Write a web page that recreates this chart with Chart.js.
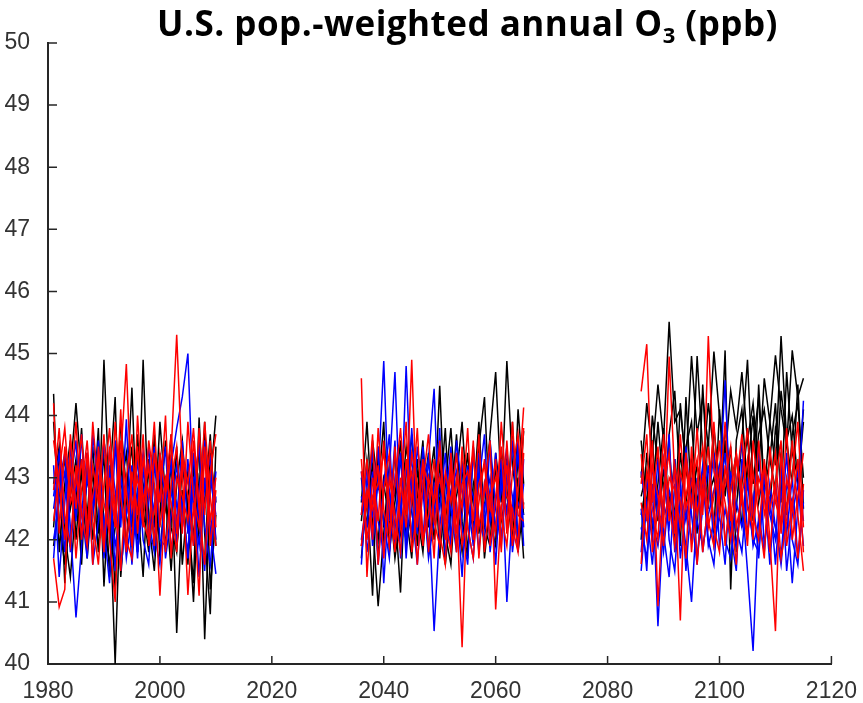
<!DOCTYPE html>
<html>
<head>
<meta charset="utf-8">
<script src="https://cdn.jsdelivr.net/npm/chart.js@4/dist/chart.umd.min.js"></script>
<style>
  body { margin: 0; background: #fff; }
  #wrap { position: relative; width: 863px; height: 703px; }
  #title {
    position: absolute; left: 157px; top: 5px;
    font-family: "Open Sans", sans-serif; font-weight: 700; font-size: 35px;
    line-height: 35px; color: #000; white-space: nowrap; letter-spacing: 0.5px;
  }
  #title sub { font-size: 22px; vertical-align: -7px; line-height: 0; }
</style>
</head>
<body>
<div id="wrap">
  <canvas id="ozone"></canvas>
  <div id="title">U.S. pop.-weighted annual O<sub>3</sub> (ppb)</div>
</div>
<script>
// years of the three simulated windows
const years1 = [1981, 1982, 1983, 1984, 1985, 1986, 1987, 1988, 1989, 1990, 1991, 1992, 1993, 1994, 1995, 1996, 1997, 1998, 1999, 2000, 2001, 2002, 2003, 2004, 2005, 2006, 2007, 2008, 2009, 2010]
const years2 = [2036, 2037, 2038, 2039, 2040, 2041, 2042, 2043, 2044, 2045, 2046, 2047, 2048, 2049, 2050, 2051, 2052, 2053, 2054, 2055, 2056, 2057, 2058, 2059, 2060, 2061, 2062, 2063, 2064, 2065]
const years3 = [2086, 2087, 2088, 2089, 2090, 2091, 2092, 2093, 2094, 2095, 2096, 2097, 2098, 2099, 2100, 2101, 2102, 2103, 2104, 2105, 2106, 2107, 2108, 2109, 2110, 2111, 2112, 2113, 2114, 2115]

// ensemble members, O3 in ppb (black / blue / red groups)
const black1 = [
  [43.9, 42.3, 41.6, 43.1, 44.2, 43.0, 42.4, 43.5, 42.1, 44.9, 42.6, 40.0, 42.8, 43.4, 42.2, 43.7, 42.5, 41.8, 43.2, 42.7, 41.9, 43.3, 40.5, 42.6, 43.1, 42.0, 43.6, 40.4, 42.9, 44.0],
  [42.2, 43.4, 41.3, 42.7, 43.3, 41.9, 43.0, 42.4, 43.8, 41.25, 42.9, 44.3, 41.4, 42.6, 44.45, 42.0, 44.9, 42.3, 41.5, 43.0, 42.5, 43.7, 41.9, 42.8, 41.6, 43.2, 42.1, 43.9, 41.2, 42.4],
  [44.35, 41.8, 42.9, 43.6, 42.0, 43.2, 41.7, 42.8, 43.5, 42.3, 41.6, 42.5, 43.4, 41.9, 43.0, 42.6, 41.4, 43.3, 42.2, 43.9, 42.7, 41.5, 42.9, 43.6, 42.4, 41.3, 43.97, 42.1, 40.8, 43.5],
  [42.9, 43.5, 42.1, 41.4, 42.6, 43.8, 42.2, 43.1, 41.8, 43.6, 42.8, 41.2, 43.2, 42.4, 41.9, 43.4, 42.9, 42.0, 43.7, 41.7, 43.0, 42.3, 43.5, 41.6, 42.7, 43.3, 42.0, 41.7, 43.4, 42.6],
  [41.9, 42.7, 43.3, 42.5, 43.0, 41.6, 43.4, 42.0, 42.9, 43.3, 41.4, 42.2, 43.9, 42.8, 43.5, 41.8, 42.6, 43.1, 41.9, 42.4, 43.6, 42.2, 41.8, 43.2, 42.5, 41.0, 43.0, 42.6, 43.7, 41.9]
]
const blue1 = [
  [42.5, 43.2, 41.8, 42.9, 43.6, 42.1, 43.0, 42.4, 43.3, 41.7, 42.8, 43.5, 42.2, 43.94, 41.9, 42.7, 43.1, 42.3, 41.8, 43.4, 42.6, 43.2, 43.8, 44.3, 45.0, 42.5, 41.9, 43.0, 42.2, 41.45],
  [41.7, 42.9, 43.4, 42.2, 40.75, 41.9, 43.1, 42.6, 43.6, 42.0, 43.43, 42.8, 41.5, 42.4, 43.2, 41.8, 42.7, 43.5, 42.1, 41.6, 42.9, 43.3, 42.0, 42.6, 41.7, 43.4, 42.3, 41.5, 43.0, 42.4],
  [43.2, 41.4, 42.6, 43.5, 42.3, 43.7, 41.9, 42.5, 43.0, 42.2, 41.3, 43.6, 42.8, 41.7, 42.4, 43.3, 42.0, 41.6, 43.2, 42.7, 43.5, 41.8, 42.6, 42.2, 43.3, 41.9, 42.8, 43.6, 42.0, 43.1],
  [42.0, 42.6, 43.1, 41.8, 42.9, 42.4, 43.4, 41.6, 42.3, 43.6, 42.7, 41.9, 42.5, 43.0, 41.6, 42.8, 43.4, 42.0, 42.6, 43.1, 41.7, 42.4, 43.2, 42.5, 41.8, 42.9, 43.5, 42.2, 41.6, 42.7],
  [42.7, 43.4, 42.3, 41.9, 43.0, 42.5, 41.7, 43.7, 42.8, 42.1, 43.2, 41.5, 43.0, 42.4, 42.9, 41.7, 43.3, 42.6, 43.5, 42.0, 41.9, 42.8, 42.3, 43.6, 42.1, 43.0, 41.4, 42.9, 43.3, 42.0]
]
const red1 = [
  [44.2, 42.1, 43.5, 42.7, 43.9, 42.4, 41.9, 43.2, 42.6, 43.7, 42.0, 41.0, 43.3, 44.83, 42.5, 43.0, 42.2, 43.6, 42.9, 41.1, 42.7, 43.4, 45.3, 43.1, 41.11, 42.6, 41.1, 43.5, 42.3, 43.0],
  [41.7, 40.92, 41.2, 43.7, 42.5, 43.3, 42.0, 43.9, 42.8, 41.8, 43.5, 42.3, 44.1, 42.0, 41.7, 44.0, 42.6, 43.2, 41.9, 43.4, 42.8, 43.7, 42.1, 43.3, 42.7, 41.9, 43.8, 42.4, 43.6, 42.2],
  [43.6, 42.9, 42.0, 43.3, 41.7, 42.8, 43.6, 42.3, 41.6, 42.9, 43.8, 42.5, 41.5, 43.0, 43.7, 42.1, 43.3, 42.7, 43.9, 42.2, 43.0, 42.6, 41.8, 43.4, 42.9, 43.8, 42.5, 41.6, 43.1, 43.7],
  [42.8, 43.8, 42.4, 41.9, 43.2, 42.0, 43.4, 41.6, 43.5, 42.6, 42.1, 43.9, 42.7, 41.8, 43.1, 42.4, 43.7, 41.9, 42.5, 43.3, 41.8, 42.9, 43.5, 42.1, 43.9, 42.7, 42.2, 43.4, 41.9, 42.8],
  [42.3, 43.1, 43.8, 42.6, 42.9, 43.7, 42.2, 42.7, 43.3, 41.9, 43.0, 42.2, 43.6, 42.8, 41.9, 43.5, 42.3, 42.0, 43.4, 42.6, 44.0, 41.7, 43.0, 42.7, 42.3, 43.6, 42.5, 43.9, 42.7, 41.9]
]
const black2 = [
  [41.7, 42.8, 41.1, 43.5, 42.2, 43.0, 42.5, 41.15, 43.3, 42.0, 42.7, 43.6, 41.8, 42.4, 44.48, 42.3, 43.1, 41.9, 42.6, 43.4, 42.1, 43.0, 42.5, 43.7, 44.7, 42.8, 43.3, 42.2, 43.0, 41.7],
  [42.6, 43.9, 42.3, 40.93, 42.1, 43.2, 42.7, 43.6, 41.9, 42.5, 43.3, 42.0, 42.8, 43.5, 41.7, 42.9, 43.8, 42.4, 41.8, 43.1, 42.6, 43.9, 42.2, 41.9, 43.4, 42.6, 44.88, 43.2, 42.5, 43.75],
  [43.0, 42.2, 43.6, 42.8, 43.9, 41.8, 42.6, 43.3, 42.4, 41.7, 43.1, 42.7, 43.4, 42.0, 42.9, 41.6, 42.5, 43.7, 42.3, 41.7, 43.5, 42.1, 42.8, 43.6, 42.0, 43.1, 42.4, 43.9, 41.8, 42.6],
  [42.3, 43.3, 42.5, 42.0, 43.0, 42.7, 41.7, 42.4, 43.5, 42.9, 41.9, 43.4, 42.2, 43.0, 42.6, 43.8, 42.0, 42.7, 43.2, 41.8, 42.9, 43.3, 41.7, 42.6, 43.1, 42.3, 42.8, 41.9, 44.1, 42.9],
  [41.9, 42.6, 43.2, 41.7, 42.9, 42.3, 43.4, 42.1, 42.7, 43.7, 42.4, 41.8, 43.0, 42.5, 43.2, 42.1, 41.6, 43.0, 43.9, 42.5, 42.2, 43.5, 44.3, 42.3, 41.9, 43.4, 42.7, 42.1, 43.3, 42.4]
]
const blue2 = [
  [42.4, 43.2, 41.9, 43.0, 44.88, 42.3, 43.6, 41.7, 42.8, 43.3, 42.1, 43.5, 42.6, 40.53, 42.2, 43.0, 42.5, 41.8, 43.2, 42.7, 41.9, 43.4, 42.3, 42.8, 41.6, 43.1, 42.4, 43.6, 42.0, 42.9],
  [42.0, 42.7, 43.4, 42.3, 41.8, 43.1, 44.7, 42.2, 44.8, 42.5, 41.6, 42.9, 43.3, 44.43, 42.0, 42.6, 43.5, 41.9, 42.4, 43.2, 42.1, 42.9, 43.7, 41.8, 42.6, 43.3, 41.0, 42.5, 43.4, 42.2],
  [43.1, 41.8, 42.6, 43.5, 41.3, 42.8, 42.2, 43.4, 41.7, 43.0, 42.6, 42.0, 43.3, 42.4, 43.8, 41.7, 42.8, 43.1, 42.2, 41.6, 43.5, 42.3, 42.0, 43.6, 42.5, 41.9, 43.2, 42.7, 41.8, 43.3],
  [42.7, 42.2, 43.1, 41.6, 42.9, 43.7, 41.9, 42.6, 43.2, 42.0, 43.5, 42.8, 41.7, 42.3, 43.0, 42.4, 41.9, 43.6, 42.8, 42.2, 41.7, 43.1, 42.5, 43.0, 42.2, 42.8, 43.5, 41.8, 42.6, 42.4],
  [41.6, 43.0, 42.4, 42.9, 42.3, 41.7, 43.0, 42.5, 42.0, 43.8, 42.4, 43.1, 41.8, 42.9, 42.5, 43.4, 42.0, 42.6, 41.4, 43.0, 42.7, 41.8, 42.9, 42.3, 43.4, 42.0, 43.0, 42.3, 43.6, 41.9]
]
const red2 = [
  [44.6, 41.4, 43.0, 42.3, 43.6, 42.1, 42.9, 43.8, 42.4, 44.9, 42.2, 43.3, 41.8, 42.7, 43.5, 42.0, 43.1, 42.6, 40.27, 42.9, 43.4, 42.2, 42.8, 43.6, 40.88, 42.5, 43.2, 41.9, 42.8, 44.13],
  [43.1, 42.5, 43.7, 41.6, 42.8, 43.4, 42.0, 42.7, 43.9, 41.8, 42.5, 43.2, 42.9, 41.7, 43.6, 42.3, 41.8, 43.0, 42.5, 43.8, 42.0, 42.6, 43.3, 41.9, 42.7, 43.5, 42.1, 43.9, 42.4, 42.3],
  [42.4, 43.3, 42.0, 43.8, 42.5, 41.9, 43.5, 42.2, 42.8, 43.1, 41.6, 42.9, 43.7, 42.3, 41.9, 43.1, 42.6, 43.4, 41.9, 42.4, 43.6, 41.7, 42.9, 42.5, 43.3, 41.8, 43.6, 42.2, 41.8, 43.4],
  [41.9, 42.8, 42.5, 43.2, 41.7, 43.0, 42.4, 41.8, 43.3, 42.6, 43.8, 42.0, 42.4, 43.3, 42.1, 41.6, 43.4, 42.1, 42.9, 43.1, 42.3, 43.7, 41.8, 42.7, 43.0, 42.4, 41.9, 43.1, 43.7, 42.5],
  [43.3, 42.0, 42.7, 42.9, 43.4, 42.6, 41.8, 43.0, 42.2, 43.4, 42.9, 41.9, 43.0, 42.6, 43.0, 42.4, 43.2, 41.8, 43.5, 42.2, 41.7, 42.9, 43.2, 42.6, 42.1, 43.9, 42.7, 42.5, 41.9, 43.8]
]
const black3 = [
  [43.0, 44.2, 43.4, 44.5, 43.6, 45.51, 43.9, 44.1, 43.2, 44.96, 43.7, 44.3, 43.5, 45.03, 44.0, 43.3, 44.4, 43.8, 44.7, 43.6, 44.2, 43.1, 44.6, 43.9, 44.97, 44.1, 43.5, 45.05, 44.3, 44.6],
  [42.0, 43.4, 42.6, 43.9, 42.8, 43.5, 42.3, 44.2, 43.1, 42.7, 44.96, 43.4, 42.5, 43.8, 42.9, 45.05, 41.2, 43.6, 44.1, 42.8, 43.5, 44.3, 42.7, 43.9, 43.2, 45.28, 43.6, 44.0, 42.9, 43.9],
  [43.6, 42.5, 44.0, 43.2, 42.4, 43.7, 44.4, 42.9, 43.5, 43.9, 42.6, 43.1, 44.2, 43.4, 42.7, 43.8, 43.0, 42.5, 43.6, 44.9, 42.9, 43.7, 44.1, 43.3, 42.8, 44.4, 43.6, 42.9, 44.5, 42.5],
  [42.7, 43.1, 42.2, 42.9, 43.8, 42.4, 43.3, 41.9, 44.3, 42.6, 43.2, 42.8, 43.6, 42.1, 44.1, 42.7, 43.5, 41.8, 42.9, 43.7, 42.3, 44.5, 42.8, 43.3, 44.2, 42.6, 44.7, 43.4, 43.0, 44.1],
  [42.4, 42.9, 43.6, 42.3, 43.1, 42.7, 42.0, 43.4, 42.6, 43.3, 42.1, 44.5, 42.7, 43.0, 42.4, 43.6, 42.8, 43.4, 42.2, 43.1, 44.0, 42.6, 43.2, 42.5, 43.8, 43.3, 42.4, 43.7, 44.2, 43.0]
]
const blue3 = [
  [42.2, 41.7, 42.9, 40.61, 42.4, 43.7, 41.8, 42.6, 41.9, 41.0, 42.5, 43.2, 42.0, 41.6, 42.8, 44.57, 42.3, 41.9, 42.7, 41.5, 40.21, 42.4, 41.8, 42.9, 42.2, 41.6, 42.6, 41.3, 42.5, 44.24],
  [43.1, 42.4, 41.6, 42.7, 43.3, 42.0, 41.5, 42.8, 42.3, 43.0, 41.7, 42.5, 43.2, 41.9, 42.4, 41.6, 43.1, 42.2, 41.8, 42.9, 42.4, 43.5, 41.9, 42.7, 41.6, 42.8, 42.1, 43.0, 41.7, 42.6],
  [41.8, 43.0, 42.3, 41.9, 42.6, 42.2, 43.3, 41.7, 42.5, 42.0, 43.0, 41.8, 42.6, 43.4, 41.9, 42.5, 42.0, 42.9, 43.6, 42.1, 42.7, 41.7, 43.1, 42.4, 42.0, 43.2, 41.5, 42.4, 42.9, 41.9],
  [42.5, 41.5, 43.2, 42.5, 41.8, 42.8, 42.4, 43.0, 41.5, 42.7, 42.3, 41.9, 42.4, 42.8, 43.2, 42.0, 41.7, 42.6, 42.2, 43.0, 41.9, 42.3, 42.8, 41.6, 42.9, 42.2, 43.4, 42.0, 41.6, 42.8],
  [41.5, 42.6, 42.0, 43.3, 42.1, 41.4, 42.9, 42.2, 43.5, 42.4, 41.6, 43.0, 41.9, 42.3, 42.7, 43.4, 42.1, 41.5, 43.3, 42.6, 42.0, 41.8, 43.0, 42.5, 42.2, 41.7, 42.9, 42.6, 43.1, 42.3]
]
const red3 = [
  [44.39, 45.15, 42.6, 43.5, 42.2, 44.95, 43.0, 40.7, 43.4, 42.5, 43.8, 42.4, 45.28, 43.1, 42.6, 43.9, 42.3, 43.3, 42.8, 41.9, 43.6, 42.7, 43.2, 42.0, 40.53, 43.4, 42.5, 43.0, 43.9, 42.2],
  [43.38, 42.3, 43.6, 40.93, 42.8, 43.4, 42.1, 43.7, 42.5, 42.9, 43.3, 41.8, 42.6, 43.9, 42.4, 42.9, 43.5, 42.2, 42.7, 43.3, 42.0, 43.6, 42.4, 42.8, 43.4, 42.1, 43.0, 42.5, 43.3, 41.8],
  [41.61, 43.1, 42.5, 42.0, 43.7, 42.3, 43.2, 42.6, 41.7, 43.5, 42.4, 43.0, 42.2, 42.7, 43.6, 41.9, 42.8, 43.4, 42.6, 42.1, 43.1, 42.4, 41.7, 43.5, 42.6, 42.3, 43.8, 42.0, 42.7, 43.4],
  [42.6, 42.0, 43.2, 42.7, 41.9, 43.0, 42.8, 42.2, 43.4, 41.8, 42.9, 43.5, 42.3, 41.9, 43.1, 42.6, 42.0, 42.9, 43.7, 42.5, 42.2, 43.0, 42.7, 41.8, 42.9, 43.6, 41.9, 42.6, 41.7, 42.9],
  [42.9, 43.7, 41.8, 42.5, 43.3, 42.6, 41.9, 43.1, 42.7, 43.2, 41.6, 42.8, 43.5, 42.2, 41.8, 43.2, 42.5, 41.6, 43.0, 43.8, 42.4, 42.0, 43.3, 42.5, 42.9, 41.7, 42.3, 43.6, 42.4, 41.5]
]

const xTicks = [1980, 2000, 2020, 2040, 2060, 2080, 2100, 2120]
const yTicks = [40, 41, 42, 43, 44, 45, 46, 47, 48, 49, 50]

const axisColor = "#262626"
const labelFont = { family: "Liberation Sans, Arial, sans-serif", size: 23 }

function makeSets(years, group, color) {
  return group.map((vals) => ({
    data: years.map((yr, i) => ({ x: yr, y: vals[i] })),
    borderColor: color,
    borderWidth: 1.5,
    pointRadius: 0,
    tension: 0,
    fill: false
  }))
}

// chart.js paints the first dataset on top, so red comes first and black last
const datasets = [
  ...makeSets(years1, red1, "#ff0000"),
  ...makeSets(years2, red2, "#ff0000"),
  ...makeSets(years3, red3, "#ff0000"),
  ...makeSets(years1, blue1, "#0000ff"),
  ...makeSets(years2, blue2, "#0000ff"),
  ...makeSets(years3, blue3, "#0000ff"),
  ...makeSets(years1, black1, "#000000"),
  ...makeSets(years2, black2, "#000000"),
  ...makeSets(years3, black3, "#000000")
]

// matlab-style tick marks pointing into the plot
const innerTicks = {
  id: "innerTicks",
  afterDraw(chart) {
    const { ctx, scales: { x, y } } = chart
    ctx.save()
    ctx.strokeStyle = axisColor
    ctx.lineWidth = 1.5
    ctx.beginPath()
    xTicks.forEach((t) => {
      const px = x.getPixelForValue(t)
      ctx.moveTo(px, y.bottom)
      ctx.lineTo(px, y.bottom - 8)
    })
    yTicks.forEach((t) => {
      const py = y.getPixelForValue(t)
      ctx.moveTo(x.left, py)
      ctx.lineTo(x.left + 9, py)
    })
    ctx.stroke()
    ctx.restore()
  }
}

new Chart("ozone", {
  type: "line",
  data: { datasets },
  plugins: [innerTicks],
  options: {
    responsive: true,
    maintainAspectRatio: false,
    animation: false,
    layout: { padding: { top: 43, right: 30, left: 0, bottom: 0 } },
    plugins: { legend: { display: false }, tooltip: { enabled: false }, title: { display: false } },
    scales: {
      x: {
        type: "linear",
        min: 1980,
        max: 2120,
        afterBuildTicks: (s) => { s.ticks = xTicks.map((v) => ({ value: v })) },
        afterFit: (s) => { s.height = 39 },
        grid: { display: false },
        border: { display: true, color: axisColor, width: 2 },
        ticks: { color: "#333", font: labelFont, padding: 6, maxRotation: 0, callback: (v) => String(v) }
      },
      y: {
        type: "linear",
        min: 40,
        max: 50,
        afterBuildTicks: (s) => { s.ticks = yTicks.map((v) => ({ value: v })) },
        afterFit: (s) => { s.width = 48 },
        grid: { display: false },
        border: { display: true, color: axisColor, width: 2 },
        ticks: { color: "#333", font: labelFont, padding: 10, callback: (v) => String(v) }
      }
    }
  }
})
</script>
</body>
</html>
